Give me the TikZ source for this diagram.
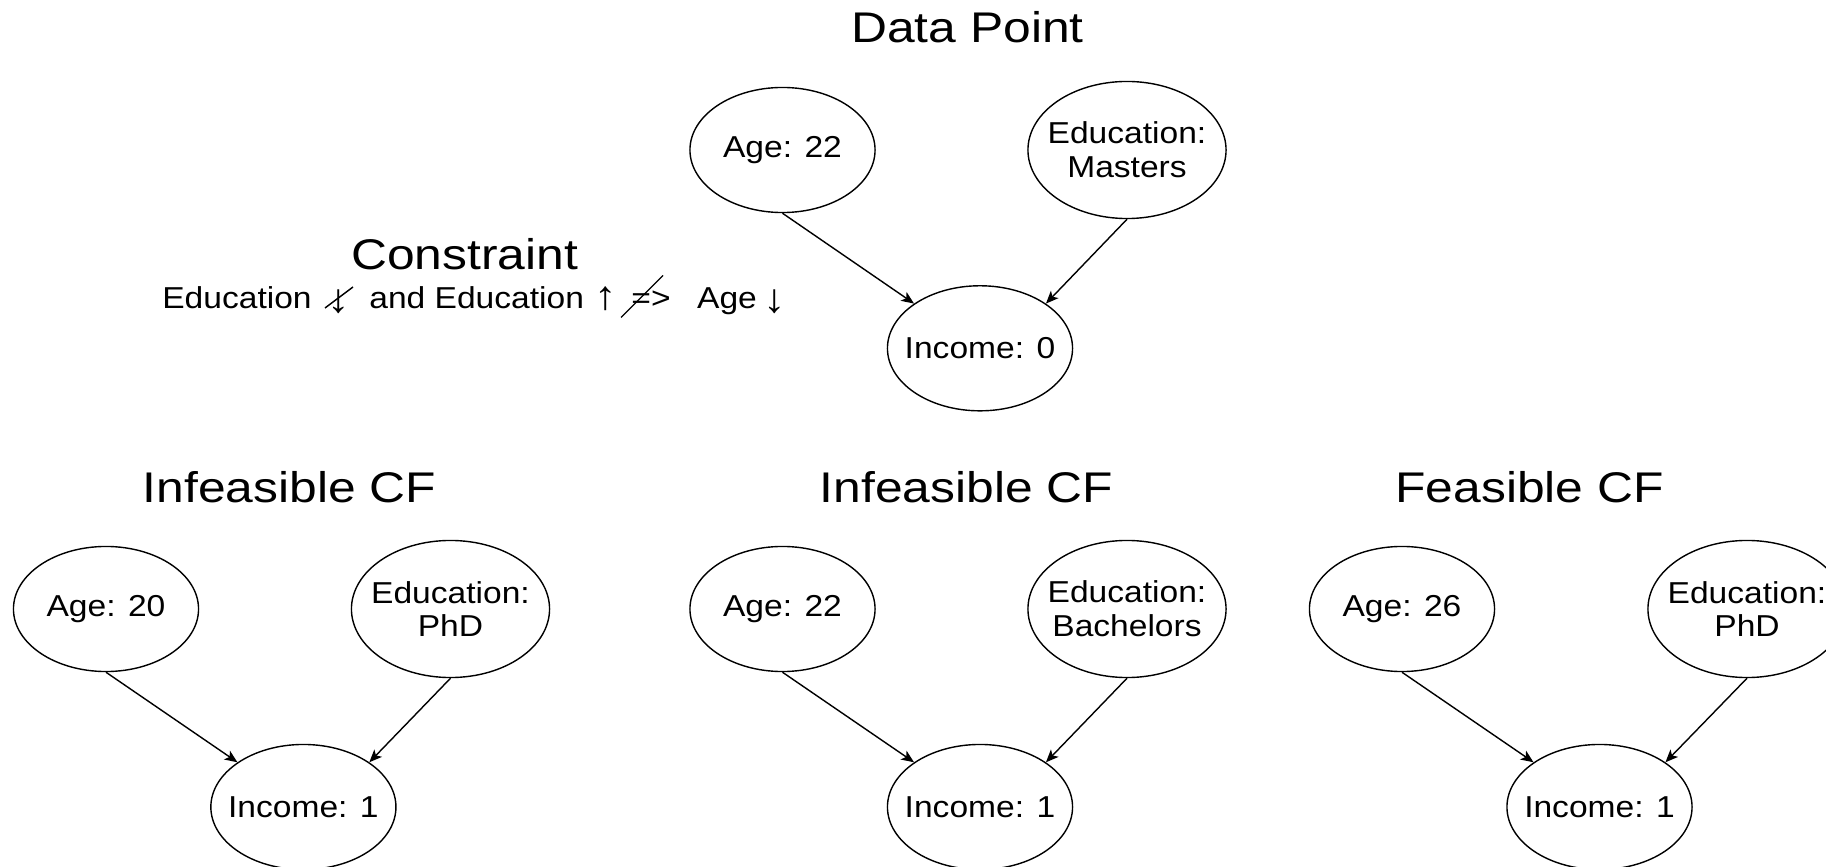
\documentclass[tikz,border=0pt]{standalone}
\usepackage{fontspec}
\setmainfont[FakeStretch=1.16]{Liberation Sans}
\newfontfamily\nodefont[FakeStretch=1.11]{Liberation Sans}
\usetikzlibrary{shapes.geometric,arrows.meta,calc}
\begin{document}
\begin{tikzpicture}[x=0.01cm,y=-0.01cm,
  var/.style={ellipse,draw,line width=0.4pt,inner sep=-0.6cm,minimum width=1.85cm,minimum height=1.25cm,font=\nodefont\fontsize{8.6}{9.6}\selectfont,align=center},
  eduvar/.style={var,minimum width=1.98cm,minimum height=1.37cm},
  ttl/.style={inner sep=0pt,anchor=base,font=\fontsize{12.2}{14}\selectfont},
  ctxt/.style={inner sep=0pt,anchor=base,font=\nodefont\fontsize{8.6}{9.6}\selectfont},
  carr/.style={inner sep=0pt,anchor=base,font=\nodefont\fontsize{11.5}{12}\selectfont},
  edge/.style={-{Stealth[length=3.6pt,width=3pt,inset=0.9pt]},line width=0.4pt},
  slash/.style={line width=0.4pt}]
\clip (0,0) rectangle (1826,867);
% titles
\node[ttl] (tdp) at (967.5,42.3) {Data Point};
\node[ttl] (tcon) at (464.6,269.5) {Constraint};
\node[ttl] (tg1) at (289.5,503) {Infeasible CF};
\node[ttl] (tg2) at (966.5,503) {Infeasible CF};
\node[ttl] (tg3) at (1529.5,503) {Feasible CF};
% constraint line
\node[ctxt] (c1) at (237,308.5) {Education};
\node[carr] (c2) at (339,313) {↓};
\node[ctxt] (c3) at (476.7,308.5) {and Education};
\node[carr] (c4) at (606,310) {↑};
\node[ctxt] (c5) at (651,308.5) {=>};
\node[ctxt] (c6) at (727,308.5) {Age};
\node[carr] (c7) at (775,313) {↓};
\draw[slash] ($(c2.base)+(-14,-5)$) -- ($(c2.base)+(14,-26)$);
\draw[slash] ($(c5.base)+(-30,9)$) -- ($(c5.base)+(12,-33)$);
% data point
\node[var] (a0) at (782.5,150) {Age: 22};
\node[eduvar] (e0) at (1127,150) {Education:\\Masters};
\node[var] (i0) at (980,348.3) {Income: 0};
\draw[edge] (a0.south) -- (i0.north west);
\draw[edge] (e0.south) -- (i0.north east);
% group 1
\node[var] (a1) at (106,609) {Age: 20};
\node[eduvar] (e1) at (450.5,609) {Education:\\PhD};
\node[var] (i1) at (303.4,807) {Income: 1};
\draw[edge] (a1.south) -- (i1.north west);
\draw[edge] (e1.south) -- (i1.north east);
% group 2
\node[var] (a2) at (782.5,609) {Age: 22};
\node[eduvar] (e2) at (1127,609) {Education:\\Bachelors};
\node[var] (i2) at (980,807) {Income: 1};
\draw[edge] (a2.south) -- (i2.north west);
\draw[edge] (e2.south) -- (i2.north east);
% group 3
\node[var] (a3) at (1402,609) {Age: 26};
\node[eduvar] (e3) at (1747,609) {Education:\\PhD};
\node[var] (i3) at (1599.5,807) {Income: 1};
\draw[edge] (a3.south) -- (i3.north west);
\draw[edge] (e3.south) -- (i3.north east);
\end{tikzpicture}
\end{document}
